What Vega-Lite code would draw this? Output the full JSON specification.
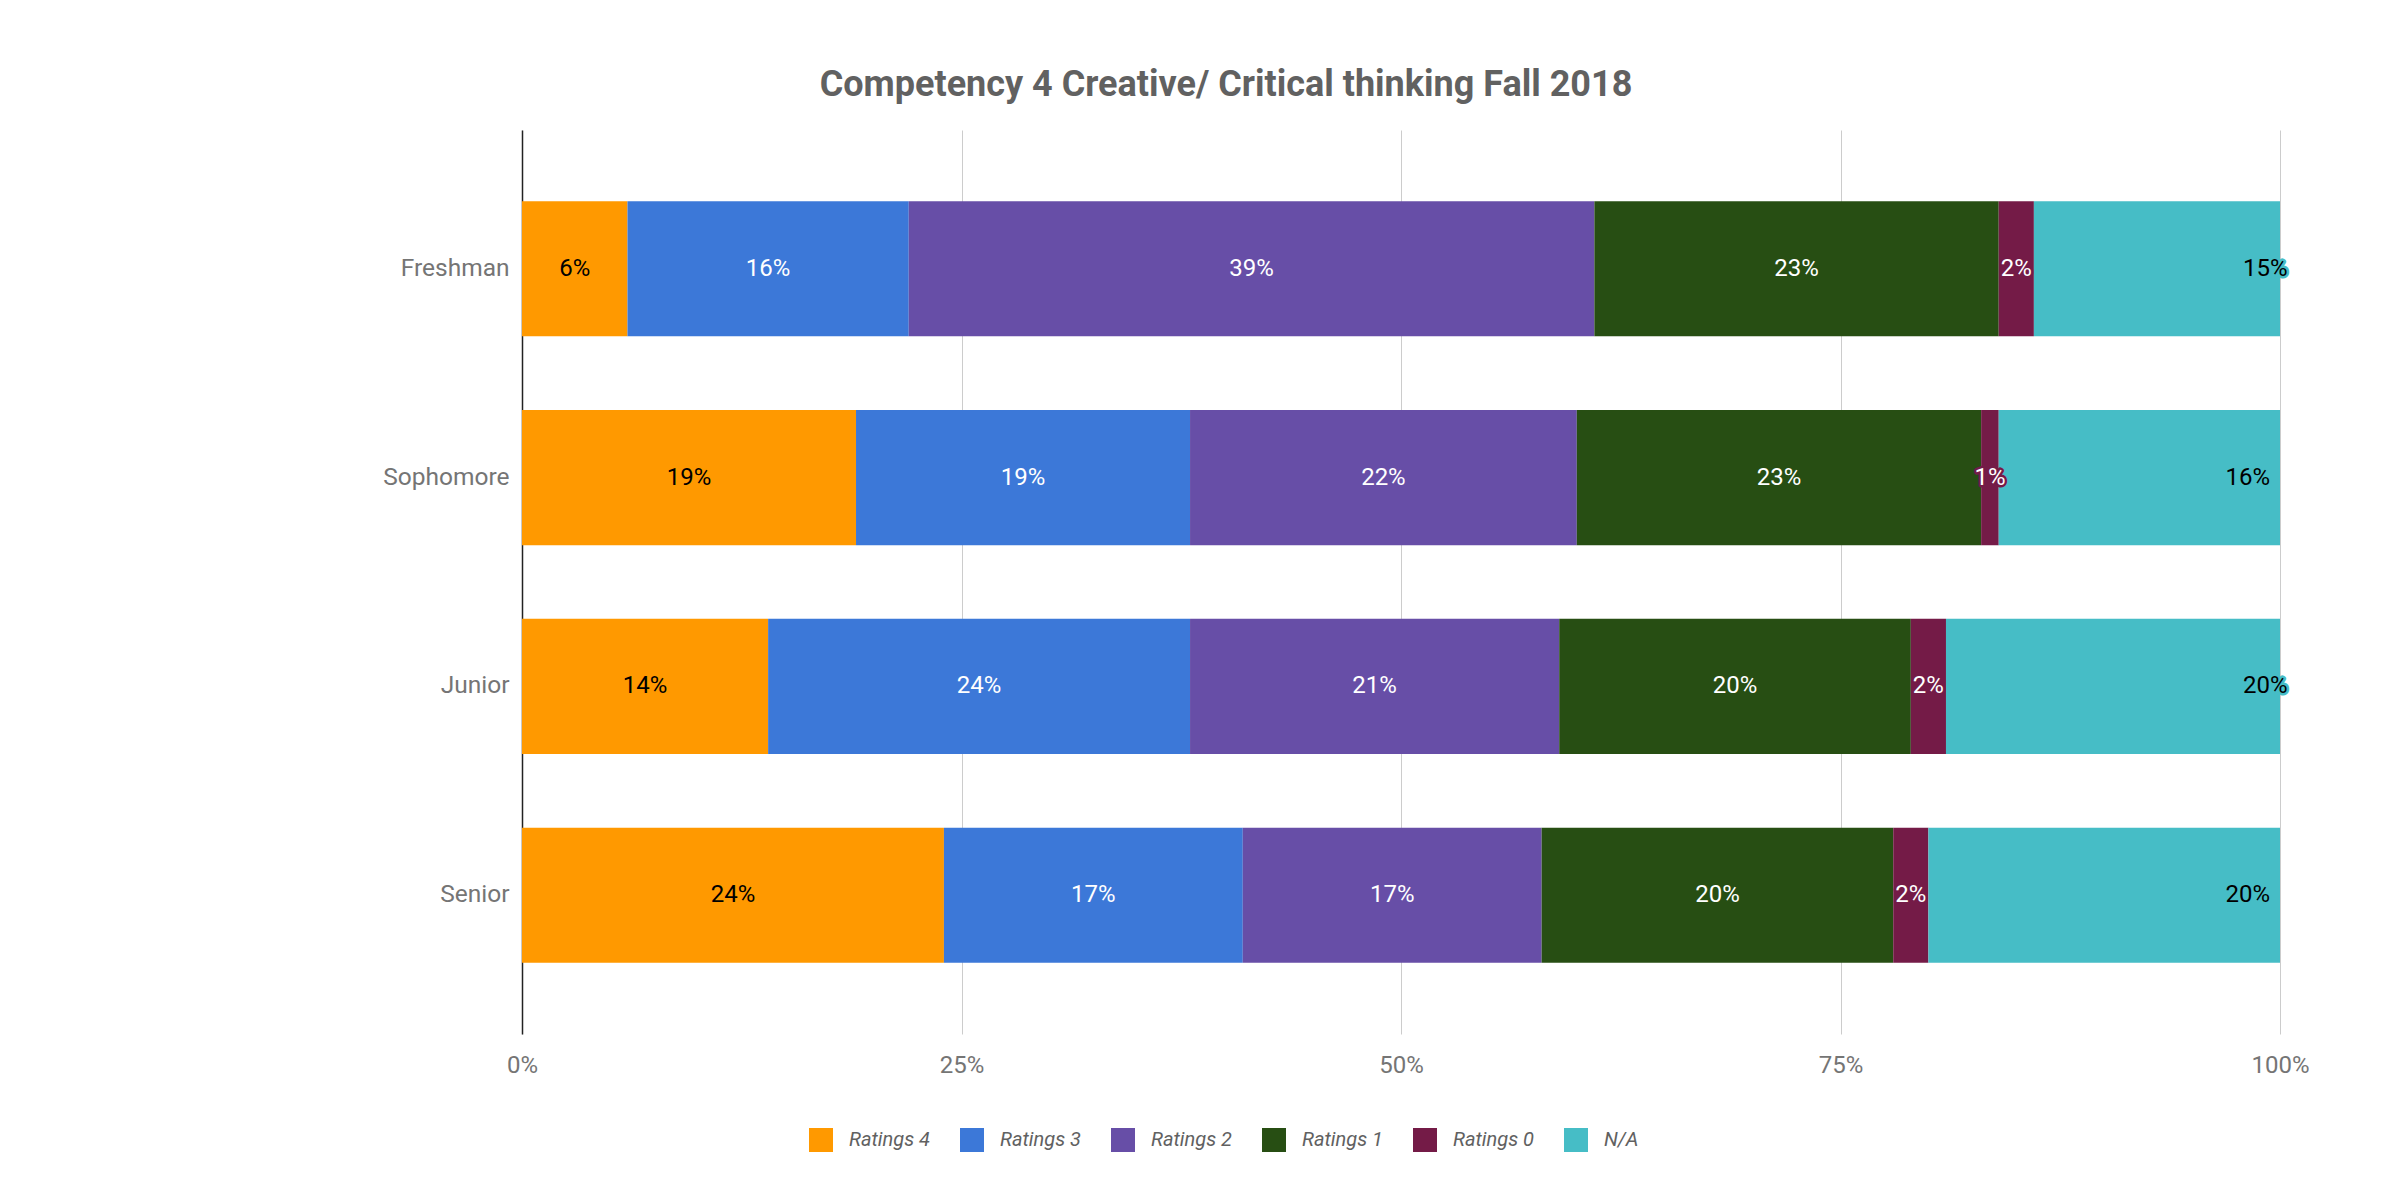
{
  "$schema": "https://vega.github.io/schema/vega-lite/v6.json",
  "width": 1758,
  "height": 904,
  "autosize": {"type": "none"},
  "padding": {"left": 522, "top": 130, "right": 122, "bottom": 159},
  "background": "white",
  "config": {"font": "Roboto", "view": {"stroke": null}},
  "title": {
    "text": "Competency 4 Creative/ Critical thinking Fall 2018",
    "font": "Roboto", "fontSize": 36, "fontWeight": "bold", "color": "#616161",
    "anchor": "middle", "frame": "group", "dx": -175, "offset": 26
  },
  "data": {
    "values": [
      {"cls": "Freshman", "rating": "Ratings 4", "k": 0, "v": 0.06},
      {"cls": "Freshman", "rating": "Ratings 3", "k": 1, "v": 0.16},
      {"cls": "Freshman", "rating": "Ratings 2", "k": 2, "v": 0.39},
      {"cls": "Freshman", "rating": "Ratings 1", "k": 3, "v": 0.23},
      {"cls": "Freshman", "rating": "Ratings 0", "k": 4, "v": 0.02},
      {"cls": "Freshman", "rating": "N/A", "k": 5, "v": 0.15},
      {"cls": "Sophomore", "rating": "Ratings 4", "k": 0, "v": 0.19},
      {"cls": "Sophomore", "rating": "Ratings 3", "k": 1, "v": 0.19},
      {"cls": "Sophomore", "rating": "Ratings 2", "k": 2, "v": 0.22},
      {"cls": "Sophomore", "rating": "Ratings 1", "k": 3, "v": 0.23},
      {"cls": "Sophomore", "rating": "Ratings 0", "k": 4, "v": 0.01},
      {"cls": "Sophomore", "rating": "N/A", "k": 5, "v": 0.16},
      {"cls": "Junior", "rating": "Ratings 4", "k": 0, "v": 0.14},
      {"cls": "Junior", "rating": "Ratings 3", "k": 1, "v": 0.24},
      {"cls": "Junior", "rating": "Ratings 2", "k": 2, "v": 0.21},
      {"cls": "Junior", "rating": "Ratings 1", "k": 3, "v": 0.20},
      {"cls": "Junior", "rating": "Ratings 0", "k": 4, "v": 0.02},
      {"cls": "Junior", "rating": "N/A", "k": 5, "v": 0.20},
      {"cls": "Senior", "rating": "Ratings 4", "k": 0, "v": 0.24},
      {"cls": "Senior", "rating": "Ratings 3", "k": 1, "v": 0.17},
      {"cls": "Senior", "rating": "Ratings 2", "k": 2, "v": 0.17},
      {"cls": "Senior", "rating": "Ratings 1", "k": 3, "v": 0.20},
      {"cls": "Senior", "rating": "Ratings 0", "k": 4, "v": 0.02},
      {"cls": "Senior", "rating": "N/A", "k": 5, "v": 0.20}
    ]
  },
  "transform": [
    {"stack": "v", "groupby": ["cls"], "sort": [{"field": "k"}], "as": ["x0", "x1"]}
  ],
  "encoding": {
    "y": {
      "field": "cls", "type": "nominal",
      "sort": ["Freshman", "Sophomore", "Junior", "Senior"],
      "scale": {"paddingInner": 0.353, "paddingOuter": 0.341},
      "axis": {
        "title": null, "ticks": false, "domainColor": "#222222", "domainWidth": 1.5,
        "labelFontSize": 24.5, "labelColor": "#757575", "labelPadding": 13, "labelFont": "Roboto"
      }
    }
  },
  "layer": [
    {
      "mark": {"type": "bar", "clip": true},
      "encoding": {
        "x": {
          "field": "x0", "type": "quantitative",
          "scale": {"domain": [0, 1], "nice": false},
          "axis": {
            "title": null, "values": [0, 0.25, 0.5, 0.75, 1], "format": ".0%", "labelFlush": false,
            "grid": true, "gridColor": "#cccccc", "domain": false, "ticks": false,
            "labelFontSize": 24, "labelColor": "#757575", "labelPadding": 19, "labelFont": "Roboto"
          }
        },
        "x2": {"field": "x1"},
        "color": {
          "field": "rating", "type": "nominal",
          "scale": {
            "domain": ["Ratings 4", "Ratings 3", "Ratings 2", "Ratings 1", "Ratings 0", "N/A"],
            "range": ["#ff9900", "#3c78d8", "#674ea7", "#274e13", "#741b47", "#46bdc6"]
          },
          "legend": {
            "title": null, "orient": "none", "legendX": 287, "legendY": 998,
            "direction": "horizontal", "columns": 6, "gridAlign": "all",
            "symbolType": "square", "symbolSize": 576,
            "symbolStrokeWidth": 0, "labelFont": "Roboto", "labelFontStyle": "italic",
            "labelFontSize": 20, "labelColor": "#616161", "labelOffset": 16, "columnPadding": 29
          }
        }
      }
    },
    {
      "transform": [{"filter": "datum.k < 5"}],
      "mark": {"type": "text", "fontSize": 24, "font": "Roboto", "strokeWidth": 5, "strokeJoin": "round", "fillOpacity": 0},
      "encoding": {
        "x": {"field": "v", "type": "quantitative", "stack": "zero", "bandPosition": 0.5},
        "order": {"field": "k", "type": "quantitative"},
        "detail": {"field": "rating"},
        "text": {"field": "v", "type": "quantitative", "format": ".0%"},
        "stroke": {
          "field": "rating", "type": "nominal", "legend": null,
          "scale": {
            "domain": ["Ratings 4", "Ratings 3", "Ratings 2", "Ratings 1", "Ratings 0", "N/A"],
            "range": ["#ff9900", "#3c78d8", "#674ea7", "#274e13", "#741b47", "#46bdc6"]
          }
        }
      }
    },
    {
      "transform": [{"filter": "datum.k < 5"}],
      "mark": {"type": "text", "fontSize": 24, "font": "Roboto"},
      "encoding": {
        "x": {"field": "v", "type": "quantitative", "stack": "zero", "bandPosition": 0.5},
        "order": {"field": "k", "type": "quantitative"},
        "detail": {"field": "rating"},
        "text": {"field": "v", "type": "quantitative", "format": ".0%"},
        "color": {
          "field": "rating", "type": "nominal", "legend": null,
          "scale": {
            "domain": ["Ratings 4", "Ratings 3", "Ratings 2", "Ratings 1", "Ratings 0", "N/A"],
            "range": ["#000000", "#ffffff", "#ffffff", "#ffffff", "#ffffff", "#000000"]
          }
        }
      }
    },
    {
      "transform": [{"filter": "datum.k == 5"}],
      "mark": {"type": "text", "fontSize": 24, "font": "Roboto", "align": "right", "dx": -10, "stroke": "#46bdc6", "strokeWidth": 5, "strokeJoin": "round", "fillOpacity": 0},
      "encoding": {
        "x": {"field": "x1", "type": "quantitative"},
        "text": {"field": "v", "type": "quantitative", "format": ".0%"}
      }
    },
    {
      "transform": [{"filter": "datum.k == 5"}],
      "mark": {"type": "text", "fontSize": 24, "font": "Roboto", "align": "right", "dx": -10, "color": "#000000"},
      "encoding": {
        "x": {"field": "x1", "type": "quantitative"},
        "text": {"field": "v", "type": "quantitative", "format": ".0%"}
      }
    }
  ],
  "resolve": {"scale": {"color": "independent", "stroke": "independent"}}
}
